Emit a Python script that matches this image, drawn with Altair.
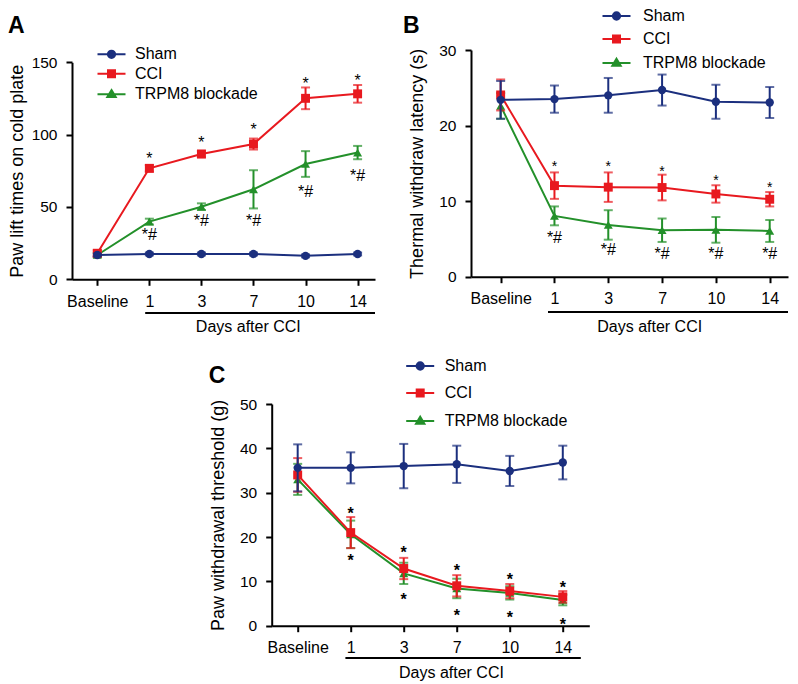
import altair as alt
import pandas as pd

F = "Liberation Sans"

labels = ["Baseline", "1", "3", "7", "10", "14"]
series = ["Sham", "CCI", "TRPM8 blockade"]
colors = ["#1b2f7e", "#e8191f", "#23902a"]
shapes = ["circle", "square", "triangle-up"]
sizes = [70, 80, 80]

# Panel A: paw lift times on cold plate
A_sham = [16.8, 17.5, 17.5, 17.5, 16.2, 17.5]
A_sham_err = [1.0, 1.0, 1.0, 1.0, 1.0, 1.0]
A_cci = [18.0, 76.7, 86.6, 93.5, 125.1, 128.2]
A_cci_err = [2.0, 2.2, 2.2, 3.8, 7.5, 6.1]
A_trpm = [16.8, 39.9, 50.2, 62.2, 79.7, 87.6]
A_trpm_err = [1.5, 2.0, 2.3, 13.2, 8.9, 4.6]
A_star_up = [None, 86.0, 96.8, 106.0, 138.0, 140.0]
A_star_dn = [None, 31.3, 41.0, 41.0, 61.3, 72.1]

# Panel B: thermal withdraw latency (s)
B_sham = [23.4, 23.5, 24.0, 24.7, 23.15, 23.05]
B_sham_err = [2.5, 1.8, 2.3, 2.05, 2.25, 2.05]
B_cci = [24.05, 12.05, 11.85, 11.8, 10.95, 10.25]
B_cci_err = [2.05, 1.75, 1.95, 1.7, 1.15, 0.95]
B_trpm = [22.6, 8.05, 6.85, 6.15, 6.2, 6.05]
B_trpm_err = [1.7, 1.25, 1.95, 1.55, 1.7, 1.45]
B_star_up = [None, 15.0, 15.0, 14.4, 13.2, 12.3]
B_star_dn = [None, 5.3, 3.6, 3.2, 3.2, 3.2]

# Panel C: paw withdrawal threshold (g)
C_sham = [35.6, 35.6, 36.0, 36.4, 34.9, 36.8]
C_sham_err = [5.3, 3.5, 5.0, 4.2, 3.4, 3.8]
C_cci = [34.0, 21.0, 12.9, 9.0, 7.8, 6.5]
C_cci_err = [3.8, 3.5, 2.4, 2.4, 1.6, 1.3]
C_trpm = [33.0, 20.6, 11.8, 8.4, 7.4, 5.8]
C_trpm_err = [3.5, 3.1, 2.4, 2.2, 1.5, 1.2]
C_star_up = [None, 26.2, 17.3, 13.2, 11.2, 9.4]
C_star_dn = [None, 15.4, 6.8, 3.0, 2.6, 1.0]

# legend glyphs: a line with the series marker on it (unit = 7 px)
legend_paths = [
    "M-2,0H2M-0.52,0A0.52,0.52,0,1,0,0.52,0A0.52,0.52,0,1,0,-0.52,0Z",
    "M-2,0H2M-0.5,-0.5H0.5V0.5H-0.5Z",
    "M-2,0H2M0,-0.6L0.6,0.4H-0.6Z",
]

label_expr = "[" + ",".join("'%s'" % l for l in labels) + "][datum.value]"


def series_df(m, e):
    return pd.DataFrame({
        "idx": list(range(len(labels))),
        "mean": m,
        "lo": [a - b for a, b in zip(m, e)],
        "hi": [a + b for a, b in zip(m, e)],
    })


def star_df(vals):
    return pd.DataFrame({
        "idx": [i for i, v in enumerate(vals) if v is not None],
        "val": [v for v in vals if v is not None],
    })


def panel(cfg, means, errs, star_up, star_dn, dn_text):
    xscale = alt.Scale(domain=cfg["xdom"], nice=False, zero=False)
    yscale = alt.Scale(domain=cfg["ydom"], range=cfg["yrange"], nice=False, zero=False)
    xaxis = alt.Axis(values=list(range(len(labels))), labelExpr=label_expr, title=None,
                     grid=False, domainColor="black", domainWidth=2, tickColor="black",
                     tickWidth=2, tickSize=6, labelFontSize=16, labelFont=F,
                     labelColor="black", labelPadding=8, labelFlush=False,
                     labelOverlap=False, labelBound=False)
    yaxis = alt.Axis(values=cfg["yticks"], title=cfg["ytitle"], grid=False,
                     domainColor="black", domainWidth=2, tickColor="black", tickWidth=2,
                     tickSize=6, labelFontSize=15.5, labelFont=F, labelColor="black",
                     labelPadding=9, titleFontSize=18, titleFont=F,
                     titleFontWeight="normal", titleColor="black",
                     titlePadding=cfg["tpad"], labelFlush=False)

    def X():
        return alt.X("idx:Q", scale=xscale, axis=xaxis)

    def Y(f):
        return alt.Y(f, scale=yscale, axis=yaxis)

    layers = []
    for k in [2, 1, 0]:
        d = series_df(means[k], errs[k])
        base = alt.Chart(d)
        c = colors[k]
        layers.append(base.mark_line(color=c, strokeWidth=2).encode(x=X(), y=Y("mean:Q")))
        layers.append(base.mark_rule(color=c, strokeWidth=2).encode(x=X(), y=Y("lo:Q"), y2="hi:Q"))
        layers.append(base.mark_tick(color=c, orient="horizontal", size=9, thickness=2).encode(x=X(), y=Y("lo:Q")))
        layers.append(base.mark_tick(color=c, orient="horizontal", size=9, thickness=2).encode(x=X(), y=Y("hi:Q")))
        layers.append(base.mark_point(shape=shapes[k], filled=True, size=sizes[k], color=c,
                                      opacity=1).encode(x=X(), y=Y("mean:Q")))

    up = star_df(star_up)
    dn = star_df(star_dn)
    layers.append(alt.Chart(up).mark_text(text="*", fontSize=cfg["sfs"], font=F, color="black",
                                          fontWeight=cfg["sfw"], baseline="alphabetic",
                                          dy=round(0.58 * cfg["sfs"])).encode(x=X(), y=Y("val:Q")))
    layers.append(alt.Chart(dn).mark_text(text=dn_text, fontSize=16, font=F, color="black",
                                          fontWeight=cfg["sfw"], baseline="alphabetic",
                                          dy=cfg["dndy"]).encode(x=X(), y=Y("val:Q")))

    one = pd.DataFrame({"a": [0]})
    layers.append(alt.Chart(one).mark_rule(color="black", strokeWidth=2).encode(
        x=alt.X(datum=cfg["ul"][0], scale=xscale, axis=xaxis),
        x2=alt.X2(datum=cfg["ul"][1]),
        y=alt.value(cfg["uly"])))
    layers.append(alt.Chart(one).mark_text(text="Days after CCI", fontSize=16, font=F,
                                           color="black", baseline="middle").encode(
        x=alt.X(datum=cfg["dx"], scale=xscale, axis=xaxis),
        y=alt.value(cfg["dy"])))
    layers.append(alt.Chart(one).mark_text(text=cfg["letter"], fontSize=23, font=F,
                                           fontWeight="bold", color="black", align="left",
                                           baseline="alphabetic").encode(
        x=alt.value(cfg["lx"]), y=alt.value(cfg["ly"])))

    leg = alt.Legend(orient="none", legendX=cfg["legx"], legendY=cfg["legy"], title=None,
                     direction="vertical", labelFontSize=16, labelFont=F, labelColor="black",
                     symbolSize=196, symbolStrokeWidth=2, rowPadding=cfg["rowpad"],
                     labelOffset=cfg["loff"], padding=0, labelLimit=0, symbolOpacity=1)
    dleg = series_df(means[0], errs[0]).assign(series=series[0])
    layers.append(alt.Chart(dleg).mark_point(filled=True).encode(
        x=X(), y=Y("mean:Q"),
        shape=alt.Shape("series:N", scale=alt.Scale(domain=series, range=legend_paths), legend=leg),
        fill=alt.Fill("series:N", scale=alt.Scale(domain=series, range=colors), legend=leg),
        stroke=alt.Stroke("series:N", scale=alt.Scale(domain=series, range=colors), legend=leg),
    ).transform_filter("false"))

    return alt.layer(*layers).properties(width=cfg["w"], height=cfg["h"])


cfgA = dict(letter="A", w=303, h=229.3, xdom=[-0.486, 5.334], ydom=[0, 150], yrange=[229.3, 12.3],
            yticks=[0, 50, 100, 150], ytitle="Paw lift times on cold plate", tpad=5,
            ul=[0.92, 5.334], uly=263, dx=2.9, dy=277, lx=-64, ly=-17,
            legx=31.5, legy=-3.7, rowpad=3.5, loff=15.5, dndy=6, sfs=16, sfw="normal")
cfgB = dict(letter="B", w=317, h=226.7, xdom=[-0.551, 5.34], ydom=[0, 30], yrange=[226.7, 0],
            yticks=[0, 10, 20, 30], ytitle="Thermal withdraw latency (s)", tpad=12,
            ul=[0.88, 5.34], uly=262, dx=2.77, dy=277, lx=-68, ly=-17,
            legx=137.5, legy=-42, rowpad=7, loff=18.5, dndy=6, sfs=14, sfw="normal")
cfgC = dict(letter="C", w=317.6, h=221.7, xdom=[-0.49, 5.5], ydom=[0, 50], yrange=[221.7, 0],
            yticks=[0, 10, 20, 30, 40, 50], ytitle="Paw withdrawal threshold (g)", tpad=12,
            ul=[0.9, 5.34], uly=254, dx=2.9, dy=269, lx=-63, ly=-21,
            legx=140.5, legy=-46, rowpad=11, loff=16.5, dndy=9, sfs=16, sfw="bold")

pA = panel(cfgA, [A_sham, A_cci, A_trpm], [A_sham_err, A_cci_err, A_trpm_err], A_star_up, A_star_dn, "*#")
pB = panel(cfgB, [B_sham, B_cci, B_trpm], [B_sham_err, B_cci_err, B_trpm_err], B_star_up, B_star_dn, "*#")
pC = panel(cfgC, [C_sham, C_cci, C_trpm], [C_sham_err, C_cci_err, C_trpm_err], C_star_up, C_star_dn, "*")

top = alt.hconcat(pA, pB, spacing=96, bounds="flush").resolve_scale(
    fill="independent", stroke="independent", shape="independent")
chart = alt.vconcat(top, pC, spacing=23, center=True).resolve_scale(
    fill="independent", stroke="independent", shape="independent"
).properties(padding=0, background="white").configure_view(strokeWidth=0)

chart.save("out.html", embed_options={"renderer": "svg", "actions": False})
